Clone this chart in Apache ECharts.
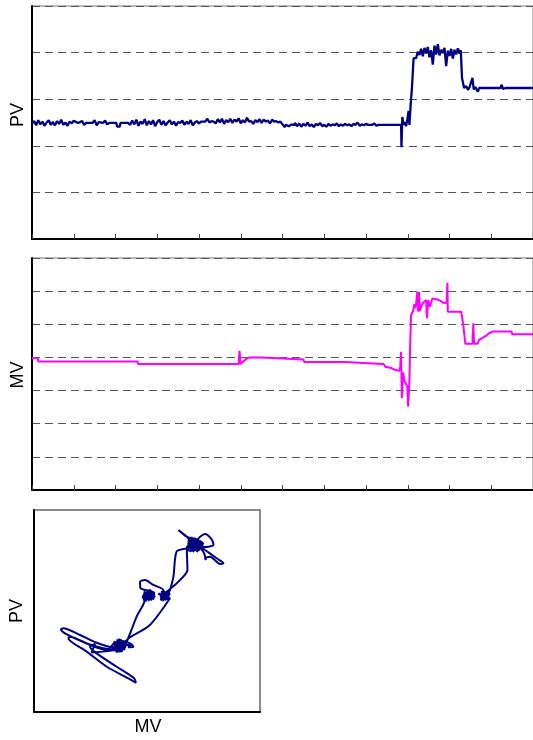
<!DOCTYPE html>
<html>
<head>
<meta charset="utf-8">
<script src="https://cdn.jsdelivr.net/npm/echarts@6/dist/echarts.min.js"></script>
<style>
html,body{margin:0;padding:0;background:#fff;}
#chart{width:533px;height:740px;}
</style>
</head>
<body>
<div id="chart"></div>
<script>
// ---- data ----
const timeTicks = [0,1,2,3,4,5,6,7,8,9,10,11,12];
const pvTrend = [
[0,2.47],[0.05,2.53],[0.1,2.44],[0.15,2.55],[0.2,2.46],[0.25,2.52],[0.3,2.43],[0.35,2.50],[0.4,2.55],[0.45,2.45],
[0.5,2.51],[0.55,2.44],[0.6,2.53],[0.65,2.47],[0.7,2.56],[0.75,2.45],[0.8,2.50],[0.85,2.43],[0.9,2.52],[0.95,2.48],[1.0,2.54],
[1.1,2.49],[1.2,2.53],[1.25,2.45],[1.3,2.49],[1.45,2.49],[1.5,2.55],[1.55,2.44],[1.6,2.51],[1.7,2.49],[1.75,2.54],[1.8,2.46],[1.85,2.49],
[1.95,2.49],[2.02,2.49],[2.04,2.41],[2.1,2.41],[2.12,2.49],[2.3,2.49],
[2.35,2.45],[2.4,2.54],[2.45,2.46],[2.5,2.56],[2.55,2.43],[2.6,2.52],[2.65,2.47],[2.7,2.57],[2.75,2.44],[2.8,2.53],
[2.85,2.46],[2.9,2.55],[2.95,2.42],[3.0,2.51],[3.05,2.56],[3.1,2.45],[3.15,2.53],[3.2,2.44],[3.25,2.50],[3.3,2.55],
[3.35,2.46],[3.4,2.52],[3.45,2.43],[3.5,2.51],[3.55,2.49],[3.6,2.54],[3.65,2.45],[3.7,2.52],[3.75,2.47],[3.8,2.55],
[3.85,2.44],[3.9,2.50],[3.95,2.53],[4.0,2.48],
[4.05,2.52],[4.15,2.52],[4.2,2.58],[4.25,2.50],[4.3,2.53],[4.35,2.52],
[4.4,2.48],[4.45,2.57],[4.5,2.50],[4.55,2.58],[4.6,2.47],[4.65,2.55],[4.7,2.51],[4.75,2.58],[4.8,2.49],[4.85,2.56],
[4.9,2.52],[4.95,2.59],[5.0,2.48],[5.05,2.55],[5.1,2.50],[5.15,2.60],[5.2,2.52],[5.25,2.53],[5.3,2.47],[5.35,2.55],
[5.4,2.51],[5.45,2.57],[5.5,2.49],[5.55,2.56],[5.6,2.52],[5.65,2.54],[5.7,2.48],[5.75,2.56],[5.8,2.52],[5.85,2.53],[5.9,2.50],
[5.95,2.52],[6.0,2.46],[6.05,2.40],[6.08,2.45],[6.15,2.42],[6.22,2.46],[6.28,2.44],
[6.3,2.49],[6.35,2.42],[6.4,2.48],[6.45,2.41],[6.5,2.47],[6.55,2.43],[6.6,2.50],[6.65,2.42],[6.7,2.46],[6.75,2.40],
[6.8,2.47],[6.85,2.44],[6.9,2.49],[6.95,2.42],[7.0,2.45],[7.05,2.41],[7.1,2.47],[7.15,2.43],[7.2,2.46],[7.25,2.44],
[7.3,2.48],[7.35,2.42],[7.4,2.46],[7.45,2.43],[7.5,2.47],[7.55,2.44],[7.6,2.46],[7.65,2.42],[7.7,2.47],[7.75,2.45],
[7.8,2.50],[7.85,2.43],[7.9,2.46],[7.95,2.44],[8.0,2.47],[8.05,2.45],
[8.15,2.45],[8.2,2.48],[8.25,2.43],[8.3,2.45],[8.84,2.45],
[8.85,1.97],[8.87,2.62],[8.9,2.45],[8.93,2.51],[8.96,2.42],[8.99,2.56],[9.02,2.75],[9.04,2.45],[9.07,2.88],[9.1,3.24],
[9.14,3.88],[9.2,3.88],[9.24,4.02],
[9.28,3.95],[9.32,4.08],[9.36,3.92],[9.4,4.10],[9.44,3.98],[9.48,4.12],[9.52,3.90],[9.56,4.05],[9.6,3.74],[9.64,4.15],
[9.68,3.96],[9.72,4.18],[9.76,3.94],[9.8,4.06],[9.84,3.99],[9.88,4.10],[9.92,3.71],[9.96,4.04],[10.0,3.93],[10.04,4.08],
[10.08,3.87],[10.12,4.06],[10.16,3.96],[10.2,4.09],[10.24,3.98],[10.27,4.05],
[10.3,3.45],[10.35,3.24],[10.4,3.28],[10.44,3.20],[10.48,3.26],[10.52,3.22],[10.55,3.46],[10.58,3.21],[10.62,3.26],
[10.65,3.23],[10.68,3.16],[10.71,3.24],[11.22,3.24],[11.25,3.31],[11.28,3.22],[11.31,3.26],[11.34,3.24],[12.0,3.24]
];
const mvTrend = [
[0,3.98],[0.14,3.98],[0.15,3.88],[2.53,3.88],[2.54,3.80],[4.95,3.80],[4.97,4.20],[5.0,3.80],[5.04,3.83],[5.14,3.97],
[5.21,4.00],[5.5,4.00],[5.52,3.94],[6.5,3.94],[6.52,3.86],[7.46,3.86],[7.48,3.80],[8.42,3.80],[8.46,3.72],[8.61,3.68],
[8.7,3.62],[8.8,3.60],[8.82,3.70],[8.84,4.17],[8.86,2.78],[8.89,3.55],[8.92,3.30],[8.96,3.25],[8.99,3.12],[9.01,2.51],
[9.04,3.30],[9.06,4.47],[9.08,5.28],[9.13,5.40],[9.16,5.61],[9.19,5.50],[9.23,5.98],[9.25,5.38],[9.27,5.98],[9.29,5.40],
[9.35,5.63],[9.44,5.73],[9.46,5.18],[9.49,5.73],[9.53,5.53],[9.59,5.78],[9.75,5.73],[9.87,5.64],[9.93,5.66],[9.95,6.25],
[9.96,5.38],[10.28,5.38],[10.33,4.98],[10.38,4.41],[10.55,4.41],[10.57,5.03],[10.59,4.41],[10.67,4.41],[10.71,4.53],
[10.79,4.59],[10.87,4.65],[10.95,4.73],[11.03,4.78],[11.49,4.78],[11.5,4.70],[12.0,4.70]
];
const mvXY = [
[38.1,34.0],[36.3,31.5],[39.5,34.8],[36.9,30.7],[40.3,32.3],[35.8,34.3],[38.8,29.9],[37.8,35.3],[41.0,33.2],[36.6,32.3],
[37.0,35.5],[38.5,30.5],[36.2,34.8],[39.8,31.2],[37.5,36.0],[38.9,29.8],[36.0,33.0],[40.0,35.2],[37.2,30.2],[39.0,34.6],
[36.5,29.5],[36.8,35.8],[37.4,29.8],[37.6,36.2],[38.3,30.0],[38.6,35.5],[39.2,30.4],[39.4,35.0],[40.1,31.0],[40.2,34.5],
[42.5,34.0],[44.0,32.3],[41.7,32.0],[43.2,33.7],
[35.1,32.0],[27.7,34.3],[20.4,38.1],[13.0,41.4],[11.9,40.9],[13.7,38.9],[24.0,33.7],[34.4,31.0],
[37.3,33.7],[39.5,31.0],[36.3,33.2],[36.5,31.8],[38.2,35.8],[40.5,32.5],[37.8,30.0],[35.6,30.8],[35.9,35.0],
[32.2,30.7],[24.8,33.2],[15.9,37.3],[15.2,36.5],[23.3,29.9],[32.2,22.4],[42.5,16.2],[45.1,14.5],[44.3,16.7],[36.6,22.4],
[27.7,29.0],[24.8,32.3],[27.0,33.7],[25.5,29.4],[36.6,31.0],[38.1,34.3],[36.9,31.5],[40.3,33.5],
[42.5,38.9],[45.4,47.2],[49.1,55.8],
[48.4,57.1],[50.6,58.7],[52.1,55.8],[49.9,59.6],[53.5,56.8],[51.3,60.4],[48.1,56.3],
[48.5,58.0],[50.0,55.5],[49.2,59.2],[51.5,56.0],[48.8,57.5],[52.5,59.0],[50.5,55.2],[53.0,57.8],[49.5,56.5],[51.8,58.8],
[48.6,55.2],[48.9,60.0],[49.6,55.0],[50.1,60.2],[50.8,55.1],[51.2,59.8],[51.9,55.4],[52.3,59.5],[52.8,55.8],[53.2,59.0],
[47.2,61.2],[46.9,64.5],[49.1,65.3],[52.8,62.9],[57.2,60.4],
[56.5,57.9],[58.7,59.6],[58.0,55.8],[60.2,58.7],[55.8,56.8],[59.4,57.4],
[56.0,58.5],[58.0,55.5],[57.0,59.0],[59.5,56.2],[56.8,55.8],[60.0,58.2],[57.5,57.0],[59.0,59.5],
[56.2,55.3],[56.5,59.6],[57.2,55.1],[57.6,59.8],[58.3,55.4],[58.7,59.5],[59.3,55.7],[59.7,59.2],
[60.2,60.4],[61.7,67.0],[63.1,79.4],[67.6,81.0],[70.5,82.2],
[69.0,84.3],[72.0,81.0],[70.5,86.0],[74.2,82.7],[68.3,83.5],[72.7,79.4],[69.8,81.8],[74.9,83.5],
[68.5,84.0],[70.0,80.5],[69.2,85.5],[71.5,81.2],[70.8,84.8],[72.8,80.0],[69.5,82.0],[71.0,86.0],[73.5,82.5],[70.2,79.8],
[68.2,80.0],[68.6,86.2],[69.4,79.5],[69.9,86.5],[70.6,79.3],[71.3,86.0],[72.0,79.6],[72.4,85.2],[73.1,80.2],[73.6,84.5],
[74.3,80.8],[74.6,83.8],
[67.6,86.8],[63.9,90.1],[67.3,87.1],[70.5,83.5],
[73.5,86.8],[75.7,88.1],[78.6,85.5],[79.4,82.7],[77.1,81.8],[74.2,81.5],
[75.7,80.2],[80.8,76.1],[83.8,73.6],[82.3,73.3],[77.9,76.9],[75.7,76.1],[76.1,75.2],[74.9,79.4],
[71.2,83.5],[72.7,80.5],[69.0,82.7],
[67.6,81.5],[67.9,70.3],[63.1,63.7],[59.4,60.1],
[57.2,57.4],[55.0,58.7],[58.7,56.3],
[60.2,56.3],[51.3,43.1],[42.5,37.0],[40.3,34.8],[38.1,33.2]
];

// ---- chart ----
const FONT = 'Liberation Sans, Arial, Helvetica, sans-serif';
const dashed = {show:true, lineStyle:{color:'#555', width:1, type:[8,5]}};
function tsX(gi){
  return {gridIndex:gi, type:'value', min:0, max:12, interval:1,
    axisLine:{show:true, onZero:false, lineStyle:{color:'#000', width:2}},
    axisTick:{show:true, inside:true, length:5, lineStyle:{color:'#444', width:1}},
    axisLabel:{show:false}, splitLine:{show:false}};
}
function tsY(gi, max){
  return {gridIndex:gi, type:'value', min:0, max:max, interval:1,
    axisLine:{show:true, lineStyle:{color:'#000', width:2}},
    axisTick:{show:false}, axisLabel:{show:false}, splitLine:dashed};
}
const chart = echarts.init(document.getElementById('chart'), null, {renderer:'canvas'});
chart.setOption({
  animation:false,
  backgroundColor:'#fff',
  grid:[
    {left:32, top:6, width:502, height:233, show:true, borderColor:'#777', borderWidth:1},
    {left:32, top:258, width:502, height:232, show:true, borderColor:'#777', borderWidth:1},
    {left:34, top:510, width:226, height:202, show:true, borderColor:'#666', borderWidth:1.5}
  ],
  xAxis:[tsX(0), tsX(1),
    {gridIndex:2, type:'value', min:0, max:100,
     axisLine:{show:true, onZero:false, lineStyle:{color:'#000', width:2}},
     axisTick:{show:false}, axisLabel:{show:false}, splitLine:{show:false}}],
  yAxis:[tsY(0,5), tsY(1,7),
    {gridIndex:2, type:'value', min:0, max:100,
     axisLine:{show:true, onZero:false, lineStyle:{color:'#000', width:2}},
     axisTick:{show:false}, axisLabel:{show:false}, splitLine:{show:false}}],
  series:[
    {type:'line', xAxisIndex:0, yAxisIndex:0, data:pvTrend, showSymbol:false,
     lineStyle:{color:'#000080', width:2.3}, itemStyle:{color:'#000080'}},
    {type:'line', xAxisIndex:1, yAxisIndex:1, data:mvTrend, showSymbol:false,
     lineStyle:{color:'#ff00ff', width:2}, itemStyle:{color:'#ff00ff'}},
    {type:'line', xAxisIndex:2, yAxisIndex:2, data:mvXY, showSymbol:false, smooth:0.25,
     lineStyle:{color:'#000080', width:2}, itemStyle:{color:'#000080'}}
  ],
  graphic:[
    {type:'text', x:18.5, y:115, rotation:Math.PI/2,
     style:{text:'PV', fontSize:18, fontFamily:FONT, fill:'#000', align:'center', verticalAlign:'middle'}},
    {type:'text', x:18.5, y:375, rotation:Math.PI/2,
     style:{text:'MV', fontSize:18, fontFamily:FONT, fill:'#000', align:'center', verticalAlign:'middle'}},
    {type:'text', x:17.5, y:611, rotation:Math.PI/2,
     style:{text:'PV', fontSize:18, fontFamily:FONT, fill:'#000', align:'center', verticalAlign:'middle'}},
    {type:'text', x:148, y:727.5,
     style:{text:'MV', fontSize:18, fontFamily:FONT, fill:'#000', align:'center', verticalAlign:'middle'}}
  ]
});
</script>
</body>
</html>
